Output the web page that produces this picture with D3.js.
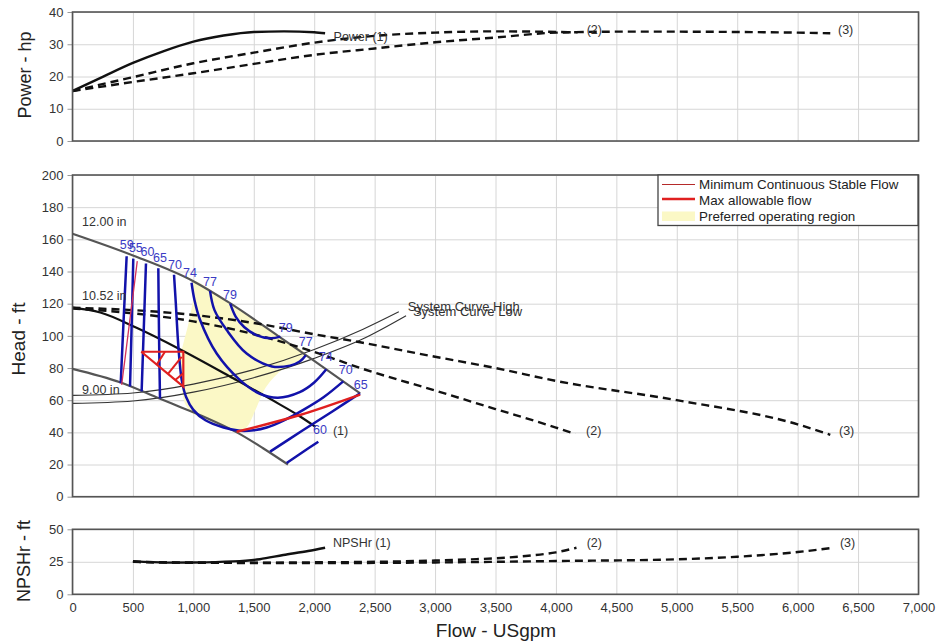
<!DOCTYPE html>
<html>
<head>
<meta charset="utf-8">
<script src="https://cdn.jsdelivr.net/npm/d3@7"></script>
<style>
  body { margin: 0; background: #fff; }
  svg { display: block; font-family: 'Liberation Sans', Arial, sans-serif; }
</style>
</head>
<body>
<div id="chart"></div>
<script>
// ---- data ----
const flowTicks = [0, 500, 1000, 1500, 2000, 2500, 3000, 3500, 4000, 4500, 5000, 5500, 6000, 6500, 7000];
const powerTicks = [0, 10, 20, 30, 40];
const headTicks = [0, 20, 40, 60, 80, 100, 120, 140, 160, 180, 200];
const npshTicks = [0, 25, 50];

// power curves [flow, hp]
const power1 = [[0, 15.5], [250, 19.9], [500, 24.2], [750, 27.8], [1000, 30.8], [1250, 32.7], [1500, 33.8], [1750, 34], [2000, 33.7], [2090, 33.4]];
const power2 = [[0, 15.5], [500, 19.8], [1000, 24.1], [1500, 27.4], [2000, 30.5], [2500, 32.6], [3000, 33.6], [3500, 34], [4180, 33.7]];
const power3 = [[0, 15.5], [500, 18.3], [1000, 21], [1500, 23.9], [2000, 26.7], [2500, 28.7], [3000, 30.6], [3500, 32.1], [4000, 33.6], [4500, 33.9], [5000, 33.9], [5500, 33.8], [6000, 33.6], [6270, 33.4]];

// head curves [flow, ft]
const dia12 = [[0, 163.5], [500, 150], [1000, 134], [1300, 120.5], [1700, 100], [2000, 84.5], [2380, 64.3]];
const dia1052 = [[0, 117.5], [230, 114.5], [530, 105], [880, 92], [1330, 73.6], [1700, 58], [1870, 50.5], [2010, 43.5]];
const dia900 = [[0, 79.5], [400, 71], [720, 61], [900, 55.5], [1110, 49], [1360, 40], [1580, 30], [1783, 20]];
const head2 = [[0, 117], [500, 114], [1000, 109], [1500, 101], [2000, 90], [2380, 80], [3000, 66], [3500, 54.5], [4000, 43], [4160, 39]];
const head3 = [[0, 117.5], [500, 116], [1000, 113], [1500, 108], [2000, 101], [2380, 96], [3000, 87], [3500, 80], [4000, 72], [5000, 60], [6000, 45], [6270, 38.5]];
const sysHigh = [[0, 63], [500, 64.5], [1000, 70], [1500, 79], [2000, 91.5], [2400, 104], [2700, 115]];
const sysLow = [[0, 58], [500, 59.5], [1000, 65], [1500, 74], [2000, 86], [2400, 98], [2760, 112.5]];

// efficiency iso-lines
const eff59 = [[448, 149.5], [423, 110], [399, 70.5]];
const eff55 = [[503, 148], [490, 108], [476, 68.5]];
const eff60 = [[608, 145], [590, 105], [572, 65.5]];
const eff65 = [[710, 142], [716, 100], [724, 61]];
const eff70 = [[840, 138], [855, 120], [870, 100], [885, 85], [905, 72], [940, 62], [1000, 54], [1100, 47.5], [1250, 43], [1386, 41], [1500, 41.3], [1607, 43], [1750, 47.5], [1910, 54], [2080, 62], [2240, 71.7]];
const eff74 = [[985, 133], [1010, 122], [1055, 110], [1193, 89], [1386, 72.5], [1550, 64], [1700, 61.5], [1880, 65], [2000, 71], [2100, 79.2]];
const eff77 = [[1138, 128], [1175, 116], [1276, 103.6], [1441, 89], [1650, 81], [1800, 81.5], [1880, 84], [1930, 88]];
const eff79 = [[1305, 120], [1350, 112], [1420, 105.5], [1520, 100.5], [1640, 98.5], [1720, 99.5]];
const eff65r = [[1635, 28], [1900, 41], [2150, 53], [2380, 64.3]];
const eff60r = [[1772, 21], [1900, 27.5], [2034, 34.2]];
const effCurves = [eff59, eff55, eff60, eff65, eff70, eff74, eff77, eff79, eff65r, eff60r];
const effLabels = [
  ['59', 448, 156.5], ['55', 524, 154.4], ['60', 620, 152.3], ['65', 724, 148.2], ['70', 848, 144],
  ['74', 972, 138.9], ['77', 1138, 133.7], ['79', 1303, 125.4],
  ['79', 1765, 104.7], ['77', 1930, 96.4], ['74', 2096, 87], ['70', 2261, 78.8], ['65', 2385, 69.5], ['60', 2048, 41.4]
];

const minStableFlow = [[536, 146.5], [407, 69.5]];
const maxFlow = [[1358, 40.4], [1882, 50.8], [2380, 63.5]];
const maxTriangle = [[569, 90.1], [917, 90.1], [917, 68.4], [569, 90.1]];
const maxHatch = [
  [[697, 82.1], [765, 90.1]],
  [[790, 76.3], [903, 87]],
  [[850, 72.6], [917, 76.7]]
];
const preferredRegion = [[990, 134.3], [1300, 120.5], [1720, 99], [1930, 88], [1750, 80], [1600, 68], [1520, 55], [1450, 44], [1400, 41], [1250, 43], [1100, 47.5], [990, 52], [930, 58], [900, 70], [890, 85], [960, 108], [1000, 125]];

// NPSHr curves [flow, ft]
const npsh1 = [[500, 25.5], [780, 24.4], [1000, 24.5], [1330, 25.3], [1550, 27], [1744, 30.2], [1950, 33.3], [2090, 35.8]];
const npsh2 = [[500, 25], [1000, 24.3], [1500, 24.3], [2000, 24.6], [2500, 25], [3000, 26], [3300, 26.9], [3500, 27.7], [3750, 29.5], [4000, 32.3], [4170, 35.8]];
const npsh3 = [[500, 25], [1000, 24.3], [2000, 24], [3000, 24.5], [4000, 25.6], [5000, 26.9], [5500, 28.9], [6000, 32.5], [6270, 35.5]];

// ---- drawing ----
const width = 937, height = 641;
const left = 72.5, right = 918.5;

const svg = d3.select('#chart').append('svg')
  .attr('width', width)
  .attr('height', height);

const x = d3.scaleLinear().domain([0, 7000]).range([left, right]);

function makePanel(top, bottom, domain, ticks, title, titleX, titleY, titleSize) {
  const y = d3.scaleLinear().domain(domain).range([bottom, top]);
  const g = svg.append('g');

  // grid
  g.append('g')
    .attr('transform', `translate(0,${bottom})`)
    .call(d3.axisBottom(x).tickValues(flowTicks).tickSize(-(bottom - top)).tickFormat(''))
    .call(a => a.select('.domain').remove())
    .call(a => a.selectAll('line').attr('stroke', '#d6d6d6'));
  g.append('g')
    .attr('transform', `translate(${left},0)`)
    .call(d3.axisLeft(y).tickValues(ticks).tickSize(-(right - left)).tickFormat(''))
    .call(a => a.select('.domain').remove())
    .call(a => a.selectAll('line').attr('stroke', '#d6d6d6'));

  // y labels
  g.append('g')
    .attr('transform', `translate(${left},0)`)
    .call(d3.axisLeft(y).tickValues(ticks).tickSize(5).tickPadding(4))
    .call(a => a.select('.domain').remove())
    .call(a => a.selectAll('line').attr('stroke', '#999'))
    .call(a => a.selectAll('text').attr('fill', '#333').style('font-size', '13px'));

  g.append('text')
    .attr('transform', `translate(${titleX},${titleY}) rotate(-90)`)
    .attr('text-anchor', 'middle')
    .attr('dominant-baseline', 'central')
    .attr('fill', '#222')
    .style('font-size', titleSize + 'px')
    .text(title);

  const plot = svg.append('g');
  svg.append('rect')
    .attr('x', left).attr('y', top)
    .attr('width', right - left).attr('height', bottom - top)
    .attr('fill', 'none').attr('stroke', '#555').attr('stroke-width', 1.6);

  return { y, g: plot, top, bottom };
}

const pPower = makePanel(12, 141, [0, 40], powerTicks, 'Power - hp', 25, 75, 18);
const pHead = makePanel(175, 496.7, [0, 200], headTicks, 'Head - ft', 18, 339, 19);
const pNpsh = makePanel(529.3, 594.3, [0, 50], npshTicks, 'NPSHr - ft', 24, 561, 18);

// x axis labels under bottom panel
svg.append('g')
  .attr('transform', `translate(0,${pNpsh.bottom})`)
  .call(d3.axisBottom(x).tickValues(flowTicks).tickSize(0).tickPadding(8).tickFormat(d3.format(',')))
  .call(a => a.select('.domain').remove())
  .call(a => a.selectAll('text').attr('fill', '#333').style('font-size', '13px'));

svg.append('text')
  .attr('x', 496).attr('y', 637)
  .attr('text-anchor', 'middle')
  .attr('fill', '#222')
  .style('font-size', '19px')
  .text('Flow - USgpm');

function lineGen(y, curve) {
  return d3.line().x(d => x(d[0])).y(d => y(d[1])).curve(curve || d3.curveMonotoneX);
}

function addText(panel, str, fx, fy, opts) {
  opts = opts || {};
  panel.g.append('text')
    .attr('x', x(fx)).attr('y', panel.y(fy))
    .attr('dominant-baseline', 'central')
    .attr('text-anchor', opts.anchor || 'start')
    .attr('fill', opts.color || '#333')
    .style('font-size', (opts.size || 12.5) + 'px')
    .text(str);
}

// ---- power panel ----
const lp = lineGen(pPower.y);
pPower.g.append('path').attr('d', lp(power3)).attr('fill', 'none').attr('stroke', '#111').attr('stroke-width', 2.4).attr('stroke-dasharray', '8,5');
pPower.g.append('path').attr('d', lp(power2)).attr('fill', 'none').attr('stroke', '#111').attr('stroke-width', 2.4).attr('stroke-dasharray', '8,5');
pPower.g.append('path').attr('d', lp(power1)).attr('fill', 'none').attr('stroke', '#111').attr('stroke-width', 2.4);
addText(pPower, 'Power (1)', 2160, 32.2);
addText(pPower, '(2)', 4254, 34.4);
addText(pPower, '(3)', 6334, 34.4);

// ---- head panel ----
const lh = lineGen(pHead.y);
const lhc = lineGen(pHead.y, d3.curveCatmullRom.alpha(0.5));
const lhl = lineGen(pHead.y, d3.curveLinear);
const lhClosed = lineGen(pHead.y, d3.curveCatmullRomClosed.alpha(0.5));

pHead.g.append('path')
  .attr('d', lhClosed(preferredRegion))
  .attr('fill', '#fbf8c6').attr('stroke', 'none');

[sysHigh, sysLow].forEach(s => {
  pHead.g.append('path').attr('d', lh(s)).attr('fill', 'none').attr('stroke', '#333').attr('stroke-width', 1.1);
});

pHead.g.append('path').attr('d', lh(dia12)).attr('fill', 'none').attr('stroke', '#555').attr('stroke-width', 2.2);
pHead.g.append('path').attr('d', lh(dia900)).attr('fill', 'none').attr('stroke', '#555').attr('stroke-width', 2.2);
pHead.g.append('path').attr('d', lh(dia1052)).attr('fill', 'none').attr('stroke', '#111').attr('stroke-width', 2.2);

[head3, head2].forEach(s => {
  pHead.g.append('path').attr('d', lh(s)).attr('fill', 'none').attr('stroke', '#111').attr('stroke-width', 2.4).attr('stroke-dasharray', '8,5');
});

effCurves.forEach(c => {
  pHead.g.append('path').attr('d', lhc(c)).attr('fill', 'none').attr('stroke', '#1212aa').attr('stroke-width', 2.5);
});

pHead.g.append('path').attr('d', lhl(minStableFlow)).attr('fill', 'none').attr('stroke', '#d4325a').attr('stroke-width', 1.3);
pHead.g.append('path').attr('d', lh(maxFlow)).attr('fill', 'none').attr('stroke', '#e02020').attr('stroke-width', 2.4);
pHead.g.append('path').attr('d', lhl(maxTriangle)).attr('fill', 'none').attr('stroke', '#e02020').attr('stroke-width', 2.2);
maxHatch.forEach(s => {
  pHead.g.append('path').attr('d', lhl(s)).attr('fill', 'none').attr('stroke', '#e02020').attr('stroke-width', 2);
});

effLabels.forEach(d => addText(pHead, d[0], d[1], d[2], { anchor: 'middle', color: '#3b3bc4', size: 12.5 }));

addText(pHead, '12.00 in', 79, 170.8);
addText(pHead, '10.52 in', 79, 124.8);
addText(pHead, '9.00 in', 79, 66.3);
addText(pHead, '(1)', 2155, 40.8);
addText(pHead, '(2)', 4249, 40.8);
addText(pHead, '(3)', 6342, 40.8);
addText(pHead, 'System Curve High', 2774, 118.4, { size: 13 });
addText(pHead, 'System Curve Low', 2817, 115.4, { size: 13 });

// legend
const lg = svg.append('g').attr('transform', 'translate(658,175)');
lg.append('rect').attr('width', 260).attr('height', 50.5).attr('fill', '#fff').attr('stroke', '#444').attr('stroke-width', 1.3);
lg.append('line').attr('x1', 4).attr('x2', 37).attr('y1', 9.5).attr('y2', 9.5).attr('stroke', '#b52a2a').attr('stroke-width', 1.2);
lg.append('line').attr('x1', 4).attr('x2', 37).attr('y1', 24).attr('y2', 24).attr('stroke', '#e02020').attr('stroke-width', 2.6);
lg.append('rect').attr('x', 4).attr('y', 36.5).attr('width', 33).attr('height', 9.5).attr('fill', '#fbf8c6');
const legendItems = ['Minimum Continuous Stable Flow', 'Max allowable flow', 'Preferred operating region'];
legendItems.forEach((t, i) => {
  lg.append('text').attr('x', 41).attr('y', 9.5 + i * 16).attr('dominant-baseline', 'central')
    .attr('fill', '#222').style('font-size', '13.4px').text(t);
});

// ---- NPSHr panel ----
const ln = lineGen(pNpsh.y);
[npsh3, npsh2].forEach(s => {
  pNpsh.g.append('path').attr('d', ln(s)).attr('fill', 'none').attr('stroke', '#111').attr('stroke-width', 2.4).attr('stroke-dasharray', '8,5');
});
pNpsh.g.append('path').attr('d', ln(npsh1)).attr('fill', 'none').attr('stroke', '#111').attr('stroke-width', 2.4);
addText(pNpsh, 'NPSHr (1)', 2155, 39.5);
addText(pNpsh, '(2)', 4254, 39.5);
addText(pNpsh, '(3)', 6350, 39.5);
</script>
</body>
</html>
